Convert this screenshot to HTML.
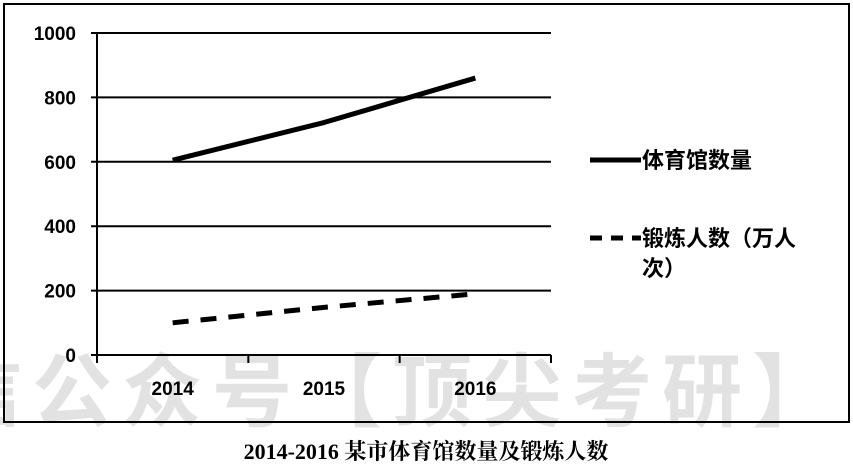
<!DOCTYPE html>
<html><head><meta charset="utf-8"><style>
body{margin:0;background:#fff;width:853px;height:469px;overflow:hidden;position:relative;font-family:"Liberation Sans","Noto Sans CJK SC",sans-serif}
</style></head><body>
<svg width="853" height="469" style="position:absolute;left:0;top:0">
<text x="-58" y="420" font-size="80" letter-spacing="10" font-weight="bold" fill="#e2e2e2" font-family="Liberation Sans,Noto Sans CJK SC,sans-serif">信公众号【顶尖考研】</text>
<rect x="4" y="4" width="845" height="418" fill="none" stroke="#000" stroke-width="2"/>
<g id="grid"></g><g id="series"></g>
<g font-size="22" font-weight="bold" font-family="Liberation Sans,Noto Sans CJK SC,sans-serif">
<line x1="590" y1="160" x2="641" y2="160" stroke="#000" stroke-width="5"/>
<text x="642" y="168">体育馆数量</text>
<line x1="590" y1="238" x2="641" y2="238" stroke="#000" stroke-width="5" stroke-dasharray="12,9"/>
<text x="642" y="246">锻炼人数（万人</text>
<text x="642" y="276">次）</text>
</g>
<text x="426" y="459" text-anchor="middle" font-size="22" font-weight="bold" font-family="Liberation Serif,Noto Serif CJK SC,serif">2014-2016 某市体育馆数量及锻炼人数</text>
</svg>
<script>
const categories=["2014","2015","2016"];
const gymCounts=[605,722,860];
const exercisePeople=[100,148,190];
const yTicks=[0,200,400,600,800,1000];
const NS="http://www.w3.org/2000/svg";
const L=97,R=551,T=33,B=355;
const y=v=>B-(v/1000)*(B-T);
const band=(R-L)/categories.length;
const x=i=>L+band*(i+0.5);
const g=document.getElementById('grid'),s=document.getElementById('series');
function mk(tag,a,p){const e=document.createElementNS(NS,tag);for(const k in a)e.setAttribute(k,a[k]);p.appendChild(e);return e;}
yTicks.forEach(v=>{
 const ln=mk('line',{x1:L-6,x2:R,y1:y(v),y2:y(v),stroke:'#000','stroke-width':2},g);
 
 
 const t=mk('text',{x:76,y:y(v)+7,'text-anchor':'end','font-size':19,'font-weight':'bold'},g);
 t.textContent=v;
 
 
});
const ax=mk('line',{x1:L,x2:L,y1:T,y2:B+8,stroke:'#000','stroke-width':2},g);


for(let i=0;i<=categories.length;i++){
 const tk=mk('line',{x1:L+band*i,x2:L+band*i,y1:B,y2:B+8,stroke:'#000','stroke-width':2},g);
 
 
}
categories.forEach((c,i)=>{
 const t=mk('text',{x:x(i),y:395,'text-anchor':'middle','font-size':19,'font-weight':'bold'},g);
 t.textContent=c;
 
 
});
const p1=mk('polyline',{points:gymCounts.map((v,i)=>x(i)+','+y(v)).join(' '),fill:'none',stroke:'#000','stroke-width':5,'stroke-linejoin':'round'},s);


const p2=mk('polyline',{points:exercisePeople.map((v,i)=>x(i)+','+y(v)).join(' '),fill:'none',stroke:'#000','stroke-width':5,'stroke-dasharray':'16,12'},s);


</script>
</body></html>
